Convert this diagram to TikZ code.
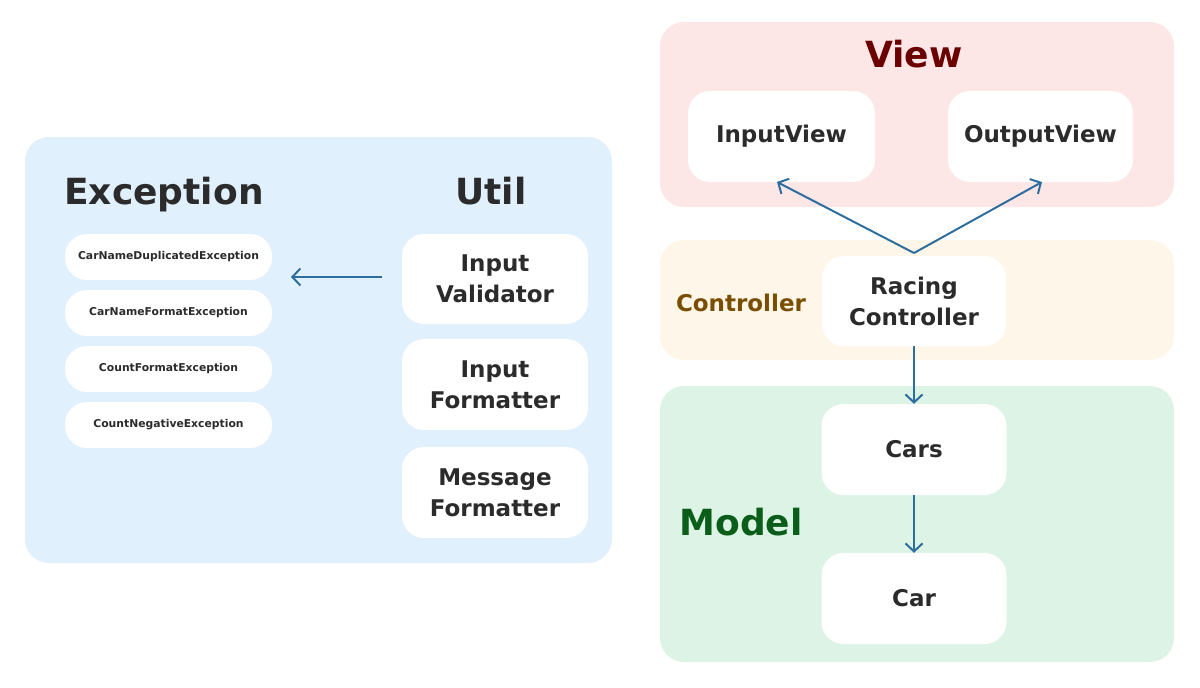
\documentclass[tikz,border=0pt]{standalone}
\usepackage{fontspec}
\setmainfont{DejaVu Sans}
\usetikzlibrary{arrows.meta}
\definecolor{txt}{HTML}{2B2B2B}
\definecolor{arr}{HTML}{2E6E9E}
\definecolor{bluebg}{HTML}{E1F0FD}
\definecolor{pinkbg}{HTML}{FDE6E6}
\definecolor{creambg}{HTML}{FEF6E8}
\definecolor{greenbg}{HTML}{DDF3E6}
\definecolor{viewc}{HTML}{6B0000}
\definecolor{ctrlc}{HTML}{7A4E00}
\definecolor{modelc}{HTML}{0B5E1A}
\tikzset{
  panel/.style={rounded corners=24pt, inner sep=0pt, draw=none},
  wbox/.style={fill=white, rounded corners=22pt, inner sep=0pt, align=center,
    text=txt, font=\fontsize{23}{31}\selectfont\bfseries},
  exbox/.style={fill=white, rounded corners=22pt, inner sep=0pt, minimum width=207pt,
    minimum height=46pt, text=txt, font=\fontsize{10.8}{13}\selectfont\bfseries},
  title/.style={text=txt, font=\fontsize{36}{42}\selectfont\bfseries},
  conn/.style={draw=arr, line width=2pt, -{Straight Barb[length=8pt,width=17pt,line width=2pt]}}
}
\begin{document}
\begin{tikzpicture}[x=1pt,y=-1pt]
\useasboundingbox (0,0) rectangle (1200,688);
% panels
\node[panel, fill=bluebg, minimum width=587pt, minimum height=426pt] (pblue) at (318.5,350) {};
\node[panel, fill=pinkbg, minimum width=514pt, minimum height=185pt] (pview) at (917,114.5) {};
\node[panel, fill=creambg, minimum width=514pt, minimum height=120pt] (pctrl) at (917,300) {};
\node[panel, fill=greenbg, minimum width=514pt, minimum height=276pt] (pmodel) at (917,524) {};
% titles
\node[title, anchor=base] (texc) at (164,204) {Exception};
\node[title, anchor=base] (tutil) at (491,204) {Util};
\node[title, text=viewc, anchor=base] (tview) at (914,67) {View};
\node[font=\fontsize{23}{28}\selectfont\bfseries, text=ctrlc, anchor=base] (tctrl) at (741,311) {Controller};
\node[title, text=modelc, anchor=base] (tmodel) at (741,535) {Model};
% exception boxes
\node[exbox] (e1) at (168.5,257) {CarNameDuplicatedException};
\node[exbox] (e2) at (168.5,313) {CarNameFormatException};
\node[exbox] (e3) at (168.5,369) {CountFormatException};
\node[exbox] (e4) at (168.5,425) {CountNegativeException};
% util boxes
\node[wbox, minimum width=186pt, minimum height=90pt] (u1) at (495,279) {Input\\Validator};
\node[wbox, minimum width=186pt, minimum height=91pt] (u2) at (495,384.5) {Input\\Formatter};
\node[wbox, minimum width=186pt, minimum height=91pt] (u3) at (495,492.5) {Message\\Formatter};
% view boxes
\node[wbox, minimum width=187pt, minimum height=91pt] (iv) at (781.5,136.5) {InputView};
\node[wbox, minimum width=185pt, minimum height=91pt] (ov) at (1040.5,136.5) {OutputView};
% controller
\node[wbox, minimum width=184pt, minimum height=90pt] (rc) at (914,301) {Racing\\Controller};
% model
\node[wbox, minimum width=185pt, minimum height=91pt] (cars) at (914,449.5) {Cars};
\node[wbox, minimum width=185pt, minimum height=91pt] (car) at (914,598.5) {Car};
% connectors
\coordinate (ustart) at (382,277);
\coordinate (uend) at (291,277);
\draw[conn] (ustart) -- (uend);
\coordinate (apex) at (914,253);
\draw[conn] (apex) -- (777,182);
\draw[conn] (apex) -- (1042,182);
\draw[conn] (rc.south) -- (cars.north);
\draw[conn] (cars.south) -- (car.north);
\end{tikzpicture}
\end{document}
